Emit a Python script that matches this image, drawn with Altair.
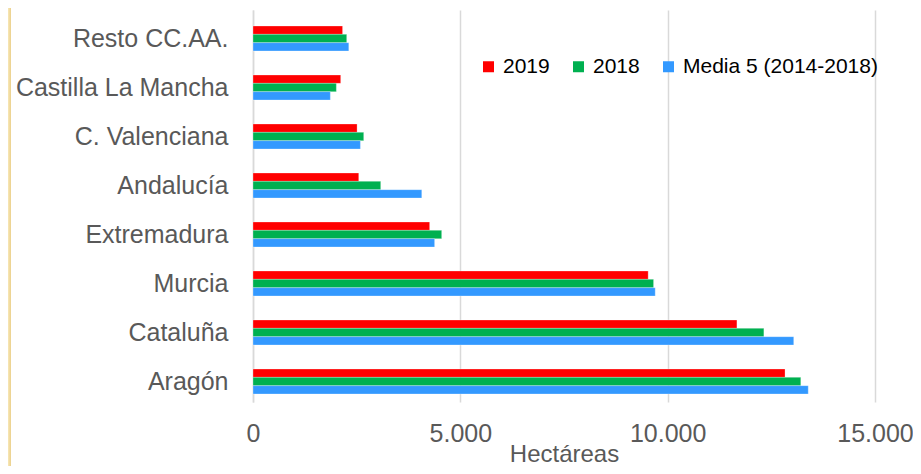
import altair as alt
import pandas as pd

regions = ["Resto CC.AA.", "Castilla La Mancha", "C. Valenciana", "Andalucía",
           "Extremadura", "Murcia", "Cataluña", "Aragón"]
series = ["2019", "2018", "Media 5 (2014-2018)"]
v2019 = [2160, 2115, 2510, 2550, 4260, 9530, 11670, 12830]
v2018 = [2260, 2010, 2670, 3080, 4550, 9660, 12320, 13210]
vmedia = [2310, 1865, 2590, 4070, 4380, 9700, 13040, 13390]
colors = ["#FF0000", "#00B050", "#3399FF"]
x_ticks = [0, 5000, 10000, 15000]

rows = []
for i, r in enumerate(regions):
    for s, vals in zip(series, [v2019, v2018, vmedia]):
        rows.append({"region": r, "serie": s, "value": vals[i]})
df = pd.DataFrame(rows)

FONT = "Liberation Sans"

bars = alt.Chart(df).mark_bar(stroke="white", strokeOpacity=0.35, strokeWidth=0.8).encode(
    x=alt.X("value:Q",
            scale=alt.Scale(domain=[0, 15000], nice=False, zero=True),
            axis=alt.Axis(values=x_ticks, labelExpr="replace(format(datum.value, ',d'), ',', '.')",
                          title="Hectáreas", grid=True, gridColor="#D9D9D9", gridWidth=1.5,
                          domain=False, ticks=False, labelFont=FONT, labelFontSize=25,
                          labelColor="#595959", labelPadding=19, labelOverlap=False,
                          labelFlush=False,
                          titleFont=FONT, titleFontSize=24, titleFontWeight="normal",
                          titleColor="#595959", titleBaseline="alphabetic", titleY=59)),
    y=alt.Y("region:N", sort=regions,
            scale=alt.Scale(paddingInner=0.49, paddingOuter=0.245, align=0.667),
            axis=alt.Axis(title=None, ticks=False, domain=True, domainColor="#D9D9D9",
                          domainWidth=1.5, labelFont=FONT, labelFontSize=25,
                          labelColor="#595959", labelPadding=25, labelLimit=300)),
    yOffset=alt.YOffset("serie:N", sort=series, scale=alt.Scale(paddingInner=0, paddingOuter=0)),
    color=alt.Color("serie:N", sort=series,
                    scale=alt.Scale(domain=series, range=colors),
                    legend=alt.Legend(title=None, orient="none", direction="horizontal",
                                      legendX=225, legendY=46, symbolType="square",
                                      symbolSize=121, symbolStrokeWidth=0,
                                      labelFont=FONT, labelFontSize=21, labelColor="#000000",
                                      labelOffset=4, columnPadding=18, padding=0,
                                      labelLimit=400)),
)

strip = alt.Chart(pd.DataFrame({"a": [0]})).mark_rect(
    color=alt.Gradient(gradient="linear", x1=0, x2=1, y1=0, y2=0,
                       stops=[alt.GradientStop(color="#F8E8B8", offset=0),
                              alt.GradientStop(color="#EBD08C", offset=1)]),
    clip=False,
).encode(x=alt.value(-245), x2=alt.value(-242), y=alt.value(-2), y2=alt.value(464))

chart = alt.layer(strip, bars).properties(
    width=622, height=392,
    autosize=alt.AutoSizeParams(type="none"),
    padding={"left": 245, "top": 2, "right": 38, "bottom": 64},
    background="white",
).configure_view(stroke=None)

chart.save("out.html", embed_options={"renderer": "svg", "actions": False})
